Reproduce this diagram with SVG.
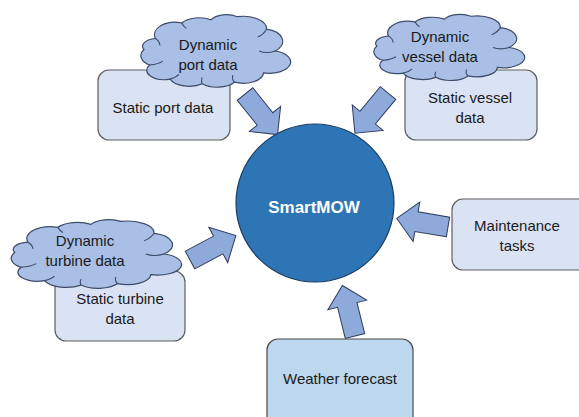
<svg xmlns="http://www.w3.org/2000/svg" xmlns:xlink="http://www.w3.org/1999/xlink" width="579" height="417" viewBox="0 0 579 417">
  <style>
    text { font-family: "Liberation Sans", Arial, sans-serif; font-size: 15px; fill: #1a1a1a; text-anchor: middle; dominant-baseline: central; }
    .box { fill: #dae3f3; stroke: #5f5f5f; stroke-width: 1.2; }
    .forecast { fill: #bdd7ee; stroke: #4a4a4a; stroke-width: 1.2; }
    .hub { fill: #2e75b6; stroke: #1f3d63; stroke-width: 1.2; }
    .hub-label { fill: #ffffff; font-weight: bold; font-size: 17px; }
    .cloud-body { fill: #a9bfe5; stroke: #3c4b69; stroke-width: 1.2; }
    .cloud-curl { fill: none; stroke: #3c4b69; stroke-width: 1.1; }
    .flow { fill: #8eaadb; stroke: #2f3d5c; stroke-width: 1; }
  </style>
  <defs>
    <!-- bumpy cloud outline, stretched to each node's box -->
    <symbol id="cloud" viewBox="0 0 100 100" preserveAspectRatio="none" overflow="visible">
      <path class="cloud-body" vector-effect="non-scaling-stroke"
        d="M12,34 A14,16 0 0 1 30,14 A14,14 0 0 1 50,10 A12,12 0 0 1 68,6 A16,16 0 0 1 88,22 A14,16 0 0 1 94,50 A14,14 0 0 1 86,78 A14,14 0 0 1 66,90 A14,14 0 0 1 44,92 A14,14 0 0 1 22,86 A12,12 0 0 1 8,68 A12,14 0 0 1 4,48 A10,10 0 0 1 12,34 Z"/>
      <path class="cloud-curl" vector-effect="non-scaling-stroke"
        d="M12,34 Q15,38 15,43 M30,14 Q31,18 33,21 M88,22 Q86,29 82,32 M94,50 Q88,54 83,50 M66,90 Q64,86 65,81 M44,92 Q43,88 44,84 M22,86 Q26,84 28,80 M8,68 Q14,67 17,63"/>
    </symbol>
    <!-- block arrow pointing along +x, tail at origin -->
    <path id="block-arrow" class="flow" d="M0,-10 H32 V-20 L52,0 L32,20 V10 H0 Z"/>
  </defs>

  <!-- connectors -->
  <g id="connectors">
    <use href="#block-arrow" transform="translate(245,94) rotate(51.3)"/>
    <use href="#block-arrow" transform="translate(388,93) rotate(129.5)"/>
    <use href="#block-arrow" transform="translate(190,260) rotate(-28)"/>
    <use href="#block-arrow" transform="translate(448,227) rotate(189.5)"/>
    <use href="#block-arrow" transform="translate(355,336) rotate(-104)"/>
  </g>

  <!-- central hub -->
  <g id="smartmow">
    <circle class="hub" cx="315" cy="203" r="79"/>
    <text class="hub-label" x="314" y="207">SmartMOW</text>
  </g>

  <!-- port data -->
  <g id="static-port">
    <rect class="box" x="98" y="70" width="132" height="70" rx="11"/>
    <text x="163" y="107">Static port data</text>
  </g>
  <g id="dynamic-port">
    <use href="#cloud" x="138" y="12" width="146" height="78"/>
    <text x="208" y="44">Dynamic</text>
    <text x="208" y="64">port data</text>
  </g>

  <!-- vessel data -->
  <g id="static-vessel">
    <rect class="box" x="405" y="70" width="132" height="70" rx="11"/>
    <text x="470" y="97">Static vessel</text>
    <text x="470" y="117">data</text>
  </g>
  <g id="dynamic-vessel">
    <use href="#cloud" x="371" y="12" width="147" height="71"/>
    <text x="440" y="36">Dynamic</text>
    <text x="440" y="56">vessel data</text>
  </g>

  <!-- turbine data -->
  <g id="static-turbine">
    <rect class="box" x="55" y="271" width="130" height="70" rx="11"/>
    <text x="120" y="298">Static turbine</text>
    <text x="120" y="318">data</text>
  </g>
  <g id="dynamic-turbine">
    <use href="#cloud" x="8" y="217" width="166" height="74"/>
    <text x="85" y="240">Dynamic</text>
    <text x="85" y="260">turbine data</text>
  </g>

  <!-- maintenance tasks -->
  <g id="maintenance">
    <rect class="box" x="452" y="199" width="140" height="71" rx="11"/>
    <text x="517" y="225">Maintenance</text>
    <text x="517" y="245">tasks</text>
  </g>

  <!-- weather forecast -->
  <g id="weather">
    <rect class="forecast" x="267" y="339" width="146" height="90" rx="11"/>
    <text x="340" y="378">Weather forecast</text>
  </g>
</svg>
